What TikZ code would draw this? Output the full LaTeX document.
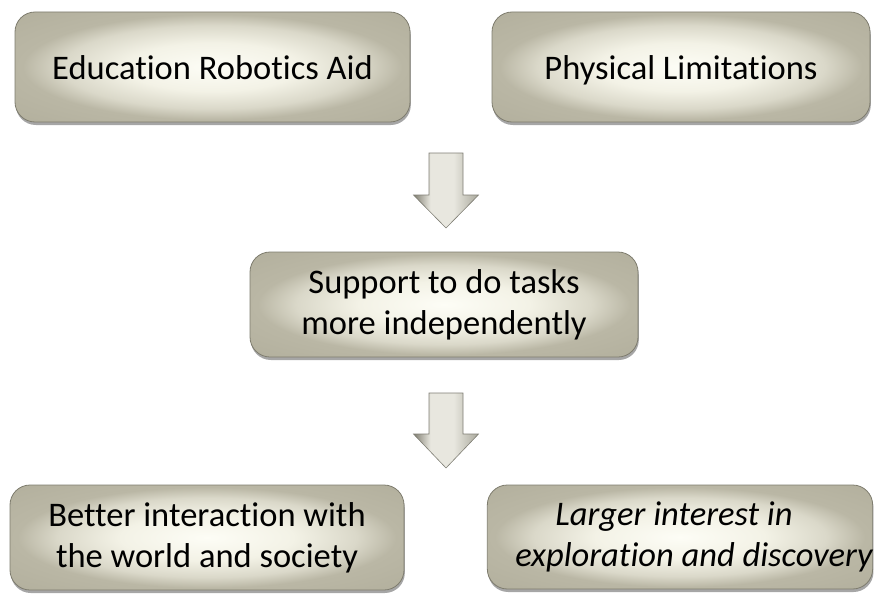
\documentclass[tikz,border=0pt]{standalone}
\usepackage{fontspec}
\setmainfont[Ligatures=NoCommon]{Carlito}
\usetikzlibrary{shadows}
\definecolor{boxline}{HTML}{7E7C6E}
\definecolor{arrowline}{HTML}{7F7E74}
\definecolor{arrowL}{HTML}{878579}
\definecolor{arrowM}{HTML}{E8E7DF}
\definecolor{arrowR}{HTML}{A9A89C}
\definecolor{gA}{HTML}{FDFDF6}
\definecolor{gB}{HTML}{F3F2E6}
\definecolor{gC}{HTML}{DAD8C9}
\definecolor{gD}{HTML}{BAB7A5}
\definecolor{gE}{HTML}{A9A693}
\pgfdeclareradialshading{glossy}{\pgfpoint{0bp}{0bp}}{color(0bp)=(gA); color(11bp)=(gB); color(19bp)=(gC); color(24bp)=(gD); color(50bp)=(gE)}
\pgfdeclarehorizontalshading{arrowsh}{100bp}{color(0bp)=(arrowL); color(26bp)=(arrowL); color(38bp)=(arrowM); color(56bp)=(arrowM); color(75bp)=(arrowR); color(100bp)=(arrowR)}
\begin{document}
\begin{tikzpicture}[x=1pt,y=-1pt,
  box/.style={draw=boxline, line width=0.8pt, rounded corners=20pt, shade, shading=glossy,
    drop shadow={shadow xshift=0.8pt, shadow yshift=-3pt, opacity=0.35, fill=black},
    align=center, font=\fontsize{34.5}{41}\selectfont, inner sep=0pt, text=black},
  oneline/.style={text height=24pt, text depth=0pt},
  blockarrow/.style={draw=arrowline, line width=0.6pt, shade, shading=arrowsh, line join=miter}
]
\useasboundingbox (0,0) rectangle (875,594);

\node[box, oneline, minimum width=395pt, minimum height=110pt] (edu) at (212.5,67) {Education Robotics Aid};
\node[box, oneline, minimum width=378pt, minimum height=110pt] (phys) at (681,67) {Physical Limitations};
\node[box, minimum width=388pt, minimum height=105pt] (supp) at (444,304.5) {Support to do tasks\\more independently};
\node[box, minimum width=394pt, minimum height=105pt] (better) at (207,537.5) {Better interaction with\\the world and society};
\node[box, minimum width=384pt, minimum height=104pt] (larger) at (680,537) {\itshape Larger interest in\hspace*{12pt}\\\itshape\hspace*{28pt}exploration and discovery};

\coordinate (ar1) at (446,153);
\coordinate (ar2) at (446,393);
\path[blockarrow] (ar1) ++(-17,0) -- ++(34,0) -- ++(0,42) -- ++(15.5,0) -- ++(-32.5,33) -- ++(-32.5,-33) -- ++(15.5,0) -- cycle;
\path[blockarrow] (ar2) ++(-17,0) -- ++(34,0) -- ++(0,41) -- ++(15.5,0) -- ++(-32.5,34) -- ++(-32.5,-34) -- ++(15.5,0) -- cycle;
\end{tikzpicture}
\end{document}
